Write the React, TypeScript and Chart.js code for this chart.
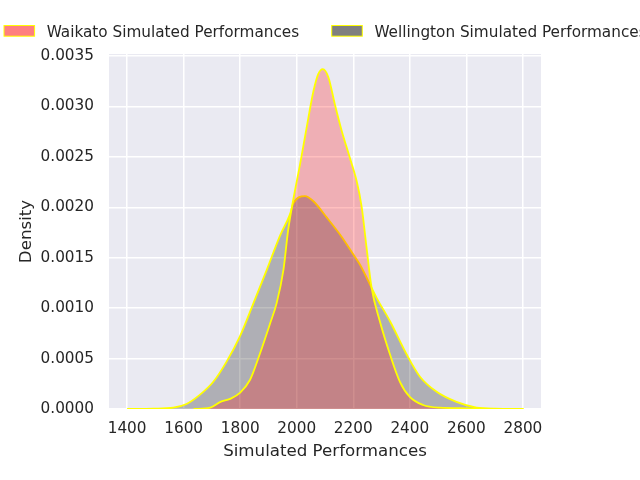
import { useEffect, useRef } from 'react'
import { Chart, ChartConfiguration, Plugin, registerables } from 'chart.js'

Chart.register(...registerables)

// KDE curves
const waikatoX = [
  1635, 1694, 1730, 1764, 1799, 1835, 1870, 1906, 1929, 1953, 1970, 1988, 2012, 2035, 2059, 2076,
  2092, 2112, 2135, 2159, 2188, 2212, 2230, 2247, 2265, 2294, 2330, 2365, 2400, 2447, 2506, 2600,
  2700, 2757,
]
const waikatoY = [
  0, 0.000013, 0.00007, 0.0001, 0.00016, 0.00029, 0.00055, 0.00085, 0.00105, 0.00138, 0.00178,
  0.00208, 0.00243, 0.00279, 0.00315, 0.00332, 0.00337, 0.00329, 0.00302, 0.00276, 0.00249, 0.00226,
  0.002, 0.0016, 0.0012, 0.00087, 0.00054, 0.00027, 0.00012, 0.00004, 0.000013, 0.000007, 0.000002, 0,
]

const wellingtonX = [
  1400, 1493, 1563, 1610, 1657, 1705, 1752, 1799, 1847, 1894, 1941, 1976, 1988, 2029, 2059, 2106,
  2153, 2194, 2224, 2283, 2330, 2389, 2436, 2495, 2565, 2636, 2700, 2803,
]
const wellingtonY = [
  0, 0.000003, 0.000013, 0.00005, 0.00014, 0.00027, 0.00047, 0.00072, 0.00105, 0.00138, 0.00172,
  0.00193, 0.00204, 0.00211, 0.00206, 0.0019, 0.00173, 0.00156, 0.00143, 0.0011, 0.00087, 0.00054,
  0.00032, 0.00017, 0.00007, 0.000013, 0.000003, 0,
]

const xTicks = [1400, 1600, 1800, 2000, 2200, 2400, 2600, 2800]
const yTicks = [0, 0.0005, 0.001, 0.0015, 0.002, 0.0025, 0.003, 0.0035]

const seriesLabels = ['Waikato Simulated Performances', 'Wellington Simulated Performances']
const fillColors = ['rgba(255, 0, 0, 0.25)', 'rgba(0, 0, 0, 0.25)']
const patchColors = ['rgba(255, 0, 0, 0.5)', 'rgba(0, 0, 0, 0.5)']

const FONT = '"DejaVu Sans", "Liberation Sans", sans-serif'
const TEXT = '#262626'

const backgroundPlugin: Plugin = {
  id: 'seabornBackground',
  beforeDraw(chart) {
    const { ctx, chartArea, width, height } = chart
    ctx.save()
    ctx.fillStyle = '#ffffff'
    ctx.fillRect(0, 0, width, height)
    ctx.fillStyle = '#eaeaf2'
    ctx.fillRect(chartArea.left, chartArea.top, chartArea.right - chartArea.left, chartArea.bottom - chartArea.top)
    ctx.restore()
  },
}

// matplotlib-like legend row, runs off the right edge like the original
const legendPlugin: Plugin = {
  id: 'topLegend',
  afterDraw(chart) {
    const { ctx } = chart
    const patchX = [4, 331.7]
    ctx.save()
    ctx.font = `15.28px ${FONT}`
    ctx.textBaseline = 'alphabetic'
    seriesLabels.forEach((label, i) => {
      const x = patchX[i]
      ctx.fillStyle = patchColors[i]
      ctx.fillRect(x, 25.5, 30.6, 10.7)
      ctx.strokeStyle = '#ffff00'
      ctx.lineWidth = 1
      ctx.strokeRect(x, 25.5, 30.6, 10.7)
      ctx.fillStyle = TEXT
      ctx.fillText(label, x + 42.7, 36.5)
    })
    ctx.restore()
  },
}

export default function App() {
  const canvasRef = useRef<HTMLCanvasElement>(null)
  const chartRef = useRef<Chart | null>(null)

  useEffect(() => {
    if (!canvasRef.current) return
    const ctx = canvasRef.current.getContext('2d')
    if (!ctx) return

    if (chartRef.current) {
      chartRef.current.destroy()
    }

    const series = [
      waikatoX.map((x, i) => ({ x, y: waikatoY[i] })),
      wellingtonX.map((x, i) => ({ x, y: wellingtonY[i] })),
    ]

    const config: ChartConfiguration = {
      type: 'line',
      data: {
        datasets: series.map((points, i) => ({
          label: seriesLabels[i],
          data: points,
          borderColor: '#ffff00',
          backgroundColor: fillColors[i],
          borderWidth: 1.8,
          fill: 'origin',
          pointRadius: 0,
          cubicInterpolationMode: 'monotone',
        })),
      },
      options: {
        responsive: false,
        animation: false,
        events: [],
        layout: { padding: { top: 54, right: 99, left: 0, bottom: 0 } },
        plugins: {
          legend: { display: false },
          tooltip: { enabled: false },
        },
        scales: {
          x: {
            type: 'linear',
            min: 1336,
            max: 2864,
            afterBuildTicks: (scale) => {
              scale.ticks = xTicks.map((value) => ({ value }))
            },
            afterFit: (scale) => {
              scale.height = 71
            },
            grid: { color: '#ffffff', lineWidth: 1.5, drawTicks: false },
            border: { display: false },
            ticks: {
              autoSkip: false,
              maxRotation: 0,
              padding: 11,
              color: TEXT,
              font: { family: FONT, size: 15.28 },
              callback: (v) => String(v),
            },
            title: {
              display: true,
              text: 'Simulated Performances',
              color: TEXT,
              font: { family: FONT, size: 16.67 },
              padding: { top: 0, bottom: 18 },
            },
          },
          y: {
            type: 'linear',
            min: 0,
            max: 0.00352,
            afterBuildTicks: (scale) => {
              scale.ticks = yTicks.map((value) => ({ value }))
            },
            afterFit: (scale) => {
              scale.width = 109
            },
            grid: { color: '#ffffff', lineWidth: 1.5, drawTicks: false },
            border: { display: false },
            ticks: {
              autoSkip: false,
              padding: 15,
              color: TEXT,
              font: { family: FONT, size: 15.28 },
              callback: (v) => Number(v).toFixed(4),
            },
            title: {
              display: true,
              text: 'Density',
              color: TEXT,
              font: { family: FONT, size: 16.67 },
              padding: { top: 17, bottom: 0 },
            },
          },
        },
      },
      plugins: [backgroundPlugin, legendPlugin],
    }

    chartRef.current = new Chart(ctx, config)

    return () => {
      chartRef.current?.destroy()
      chartRef.current = null
    }
  }, [])

  return (
    <div style={{ position: 'absolute', left: 0, top: 0, width: 640, height: 480 }}>
      <canvas ref={canvasRef} width={640} height={480} style={{ width: 640, height: 480 }} />
    </div>
  )
}
